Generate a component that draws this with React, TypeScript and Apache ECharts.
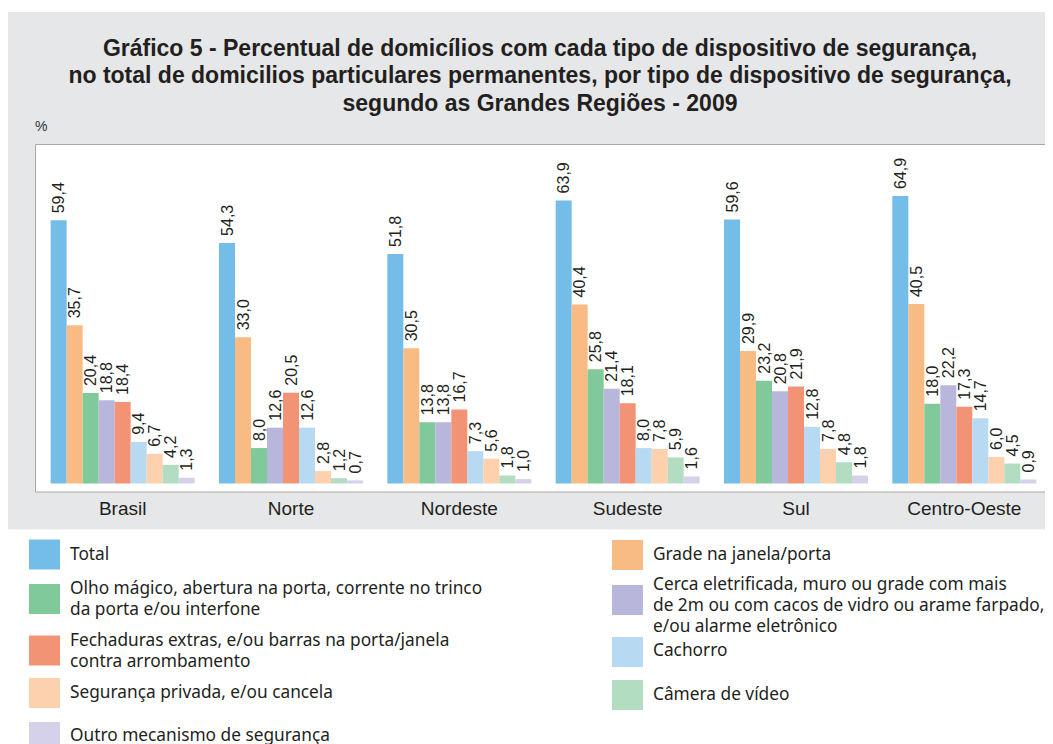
import React, { useEffect, useRef } from "react";
import * as echarts from "echarts";

const categories = ["Brasil", "Norte", "Nordeste", "Sudeste", "Sul", "Centro-Oeste"];

const seriesNames = [
  "Total",
  "Grade na janela/porta",
  "Olho mágico, abertura na porta, corrente no trinco da porta e/ou interfone",
  "Cerca eletrificada, muro ou grade com mais de 2m ou com cacos de vidro ou arame farpado, e/ou alarme eletrônico",
  "Fechaduras extras, e/ou barras na porta/janela contra arrombamento",
  "Cachorro",
  "Segurança privada, e/ou cancela",
  "Câmera de vídeo",
  "Outro mecanismo de segurança",
];

const legendLabels = [
  "Total",
  "Grade na janela/porta",
  "Olho mágico, abertura na porta, corrente no trinco\nda porta e/ou interfone",
  "Cerca eletrificada, muro ou grade com mais\nde 2m ou com cacos de vidro ou arame farpado,\ne/ou alarme eletrônico",
  "Fechaduras extras, e/ou barras na porta/janela\ncontra arrombamento",
  "Cachorro",
  "Segurança privada, e/ou cancela",
  "Câmera de vídeo",
  "Outro mecanismo de segurança",
];

const total = [59.4, 54.3, 51.8, 63.9, 59.6, 64.9];
const grade = [35.7, 33.0, 30.5, 40.4, 29.9, 40.5];
const olhoMagico = [20.4, 8.0, 13.8, 25.8, 23.2, 18.0];
const cerca = [18.8, 12.6, 13.8, 21.4, 20.8, 22.2];
const fechaduras = [18.4, 20.5, 16.7, 18.1, 21.9, 17.3];
const cachorro = [9.4, 12.6, 7.3, 8.0, 12.8, 14.7];
const segurancaPrivada = [6.7, 2.8, 5.6, 7.8, 7.8, 6.0];
const camera = [4.2, 1.2, 1.8, 5.9, 4.8, 4.5];
const outro = [1.3, 0.7, 1.0, 1.6, 1.8, 0.9];

const seriesValues = [total, grade, olhoMagico, cerca, fechaduras, cachorro, segurancaPrivada, camera, outro];

const colors = [
  "#74BDE8",
  "#F9BB84",
  "#80C99A",
  "#B9B6DB",
  "#F39375",
  "#B7DAF2",
  "#FDD0AE",
  "#B2DDC0",
  "#D5D1EA",
];

const titleLines = [
  "Gráfico 5 - Percentual de domicílios com cada tipo de dispositivo de segurança,",
  "no total de domicilios particulares permanentes, por tipo de dispositivo de segurança,",
  "segundo as Grandes Regiões - 2009",
];

const FONT = "'Liberation Sans', Arial, Helvetica, sans-serif";
const WIDE = "'Noto Sans', 'Liberation Sans', Arial, sans-serif";

// legend layout: [series index, swatch center y, text center y]
const legendLeft = [
  [0, 546.5, 545],
  [2, 591, 590],
  [4, 642.5, 641.5],
  [6, 685, 683.5],
  [8, 729, 726],
];
const legendRight = [
  [1, 547, 545],
  [3, 592, 596],
  [5, 644, 641.5],
  [7, 687, 685],
];

export default function App() {
  const ref = useRef<HTMLDivElement>(null);

  useEffect(() => {
    if (!ref.current) return;
    const chart = echarts.init(ref.current, null, { renderer: "svg" });

    const graphics: any[] = [
      {
        type: "rect",
        z: -10,
        silent: true,
        shape: { x: 0, y: 4, width: 1045, height: 517.5 },
        style: { fill: "#E6E7E8" },
      },
      {
        type: "rect",
        z: -9,
        silent: true,
        shape: { x: 27.5, y: 136.5, width: 1010, height: 347.5 },
        style: { fill: "#FFFFFF", stroke: "#A8A8A8", lineWidth: 1 },
      },
      {
        type: "text",
        x: 27,
        y: 118,
        style: { text: "%", font: `14px ${FONT}`, fill: "#333", textVerticalAlign: "middle" },
      },
      {
        type: "text",
        x: 532,
        y: 67,
        style: {
          text: titleLines.join("\n"),
          font: `bold 23px ${FONT}`,
          lineHeight: 27.5,
          fill: "#231F20",
          textAlign: "center",
          textVerticalAlign: "middle",
        },
      },
    ];

    const addLegend = (items: number[][], swX: number, txX: number) => {
      items.forEach(([idx, sy, ty]) => {
        graphics.push({
          type: "rect",
          shape: { x: swX, y: sy - 15, width: 31, height: 30 },
          style: { fill: colors[idx] },
        });
        graphics.push({
          type: "text",
          x: txX,
          y: ty,
          style: {
            text: legendLabels[idx],
            font: `17.3px ${WIDE}`,
            fill: "#231F20",
            lineHeight: 21,
            textVerticalAlign: "middle",
          },
        });
      });
    };
    addLegend(legendLeft, 21, 62);
    addLegend(legendRight, 604, 645);

    chart.setOption({
      animation: false,
      textStyle: { fontFamily: FONT },
      graphic: graphics,
      grid: { left: 30.5, top: 137, width: 1010, height: 338.5, containLabel: false },
      xAxis: {
        type: "category",
        data: categories,
        axisLine: { show: false },
        axisTick: { show: false },
        axisLabel: { fontSize: 19, color: "#231F20", margin: 15, fontFamily: FONT },
        splitLine: { show: false },
      },
      yAxis: {
        type: "value",
        min: 0,
        max: 76.4,
        show: false,
        splitLine: { show: false },
      },
      series: seriesValues.map((vals, i) => ({
        name: seriesNames[i],
        type: "bar",
        data: vals,
        barWidth: 16,
        barGap: "0%",
        itemStyle: { color: colors[i] },
        label: {
          show: true,
          position: "top",
          rotate: 90,
          align: "left",
          verticalAlign: "middle",
          distance: 7,
          fontSize: 16,
          color: "#231F20",
          fontFamily: FONT,
          formatter: (p: any) => p.value.toFixed(1).replace(".", ","),
        },
      })),
    });

    return () => chart.dispose();
  }, []);

  return <div ref={ref} style={{ width: 1045, height: 736 }} />;
}
